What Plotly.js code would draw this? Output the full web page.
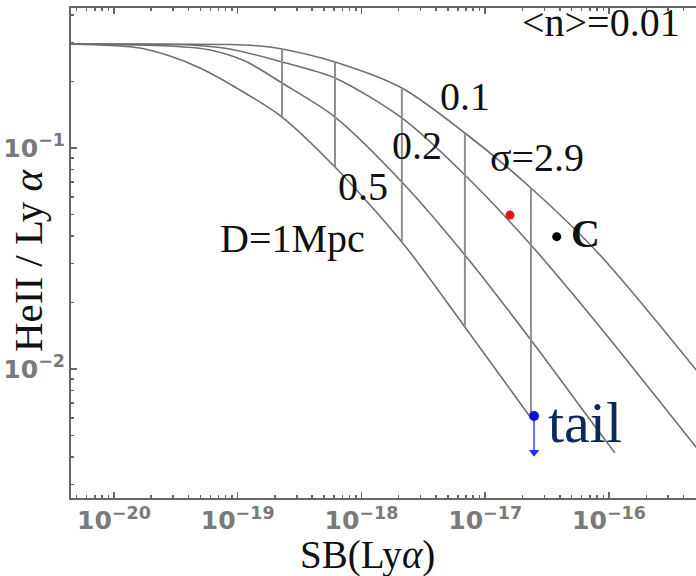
<!DOCTYPE html>
<html><head><meta charset="utf-8">
<script src="https://cdn.plot.ly/plotly-3.0.1.min.js"></script>
<style>html,body{margin:0;padding:0;background:#fff;overflow:hidden}</style>
</head><body><div id="chart" style="width:696px;height:576px"></div>
<script>
// model grid: SB(Lya) positions of the constant-density lines
const gridSB = [2.28e-19, 6.11e-19, 2.12e-18, 6.85e-18, 2.34e-17];
// HeII/Lya ratio of each distance curve at the grid positions
const curveA_grid = [0.1381, 0.0820, 0.03757, 0.01549, 0.00600];   // D=1Mpc
const curveB_grid = [0.1968, 0.1381, 0.07019, 0.03280, 0.01353];   // 0.5
const curveC_grid = [0.2449, 0.2074, 0.1367, 0.07545, 0.03640];    // 0.2
const curveD_grid = [0.2805, 0.2449, 0.1868, 0.1169, 0.06592];     // 0.1
// extra points along the curves (left plateau / right extension)
const curveA_leftSB = [4.5e-21, 1.62e-20, 2.84e-20, 4.96e-20, 9.50e-20];
const curveA_leftR  = [0.2955, 0.2835, 0.2607, 0.2301, 0.1888];
const curveB_leftSB = [4.5e-21, 2.84e-20, 5.97e-20, 1.145e-19];
const curveB_leftR  = [0.2955, 0.2893, 0.2776, 0.2475];
const curveC_leftSB = [4.5e-21, 4.11e-20, 8.66e-20];
const curveC_leftR  = [0.2955, 0.2924, 0.2805];
const curveD_leftSB = [4.5e-21, 8.66e-20, 1.514e-19];
const curveD_leftR  = [0.2955, 0.2940, 0.2893];
const curveB_rightSB = [8.45e-17, 1.117e-16];
const curveB_rightR  = [0.00513, 0.00417];
const curveC_rightSB = [8.45e-17, 5.1e-16];
const curveC_rightR  = [0.01549, 0.00440];
const curveD_rightSB = [8.45e-17, 5.1e-16];
const curveD_rightR  = [0.0328, 0.00985];
// observed points
const redSB = [1.585e-17], redR = [0.0497];
const blackSB = [3.78e-17], blackR = [0.0397];
const tailSB = [2.48e-17], tailR = [0.00612], tailLimit = [0.0042];

const curveColor = '#6f6f6f';
const vColor = '#8f8f8f';
function curve(lsb, lr, g, rsb, rr) {
  return {
    x: lsb.concat(gridSB, rsb), y: lr.concat(g, rr),
    mode: 'lines', line: {color: curveColor, width: 1.6, shape: 'spline', smoothing: 0.8},
    hoverinfo: 'skip', showlegend: false
  };
}
const traces = [
  curve(curveA_leftSB, curveA_leftR, curveA_grid, [], []),
  curve(curveB_leftSB, curveB_leftR, curveB_grid, curveB_rightSB, curveB_rightR),
  curve(curveC_leftSB, curveC_leftR, curveC_grid, curveC_rightSB, curveC_rightR),
  curve(curveD_leftSB, curveD_leftR, curveD_grid, curveD_rightSB, curveD_rightR)
];
gridSB.forEach((g, i) => {
  traces.push({x: [g, g], y: [curveA_grid[i], curveD_grid[i]], mode: 'lines',
    line: {color: vColor, width: 2}, hoverinfo: 'skip', showlegend: false});
});
traces.push({x: [tailSB[0], tailSB[0]], y: [tailR[0], tailLimit[0]], mode: 'lines',
  line: {color: '#6070ff', width: 2}, showlegend: false});
traces.push({x: tailSB, y: tailLimit, mode: 'markers',
  marker: {symbol: 'triangle-down', size: 9, color: '#1f2fff'}, showlegend: false});
traces.push({x: tailSB, y: tailR, mode: 'markers', marker: {size: 10, color: '#0a14d0'}, showlegend: false});
traces.push({x: redSB, y: redR, mode: 'markers', marker: {size: 9, color: '#e8101a'}, showlegend: false});
traces.push({x: blackSB, y: blackR, mode: 'markers', marker: {size: 9, color: '#000'}, showlegend: false});

const xr = [-20.347, -15.297], yr = [-2.584, -0.3665];
function minorVals(lo, hi) {
  const v = [];
  for (let e = Math.floor(lo); e <= Math.ceil(hi); e++)
    for (let m = 2; m <= 9; m++) v.push(m * Math.pow(10, e));
  return v;
}
const axisCommon = {type: 'log', showgrid: false, zeroline: false, showline: true,
  linecolor: '#666', linewidth: 2, ticks: 'inside', tickcolor: '#666', tickwidth: 1.5};
const serif = 'Liberation Serif, serif';
const tickFont = {family: 'DejaVu Sans', size: 20, color: '#7a7a7a', weight: 'bold'};
const layout = {
  width: 696, height: 576,
  margin: {l: 71, r: 0, t: 8, b: 78},
  paper_bgcolor: '#fff', plot_bgcolor: '#fff',
  xaxis: Object.assign({}, axisCommon, {range: xr, dtick: 1, ticklen: 6, mirror: 'ticks',
    exponentformat: 'power', tickfont: tickFont}),
  yaxis: Object.assign({}, axisCommon, {range: yr, dtick: 1, ticklen: 6,
    exponentformat: 'power', tickfont: tickFont}),
  xaxis2: Object.assign({}, axisCommon, {range: xr, overlaying: 'x', anchor: 'y', side: 'bottom',
    tickvals: minorVals(-21, -15), showticklabels: false, ticklen: 3, mirror: 'ticks', showline: false}),
  yaxis2: Object.assign({}, axisCommon, {range: yr, overlaying: 'y', anchor: 'x', side: 'left',
    tickvals: minorVals(-3, 0), showticklabels: false, ticklen: 3, showline: false}),
  annotations: [
    {text: '&lt;n&gt;=0.01', x: 0.848, y: 0.9694},
    {text: '0.1', x: 0.6304, y: 0.8184},
    {text: '0.2', x: 0.5536, y: 0.7184},
    {text: '0.5', x: 0.4672, y: 0.6347},
    {text: 'D=1Mpc', x: 0.3536, y: 0.5306},
    {text: 'σ=2.9', x: 0.7456, y: 0.6959},
    {text: '<b>C</b>', x: 0.8224, y: 0.5388},
    {text: 'tail', x: 0.8224, y: 0.1551, font: {family: serif, size: 58, color: '#0b2a5b'}},
    {text: 'SB(Ly<i>α</i>)', x: 0.4736, y: -0.1162, font: {family: serif, size: 39, color: '#111'}},
    {text: 'HeII&nbsp;/&nbsp;Ly&nbsp;<i>α</i>', x: -0.0688, y: 0.4857, textangle: -90, font: {family: serif, size: 41, color: '#111'}}
  ].map(a => Object.assign({xref: 'paper', yref: 'paper', showarrow: false,
    xanchor: 'center', yanchor: 'middle', font: {family: serif, size: 40, color: '#111'}}, a))
};
// dummy invisible trace to keep overlay axes alive
traces.push({x: [1e-18], y: [0.01], xaxis: 'x2', yaxis: 'y2', mode: 'markers',
  marker: {opacity: 0}, hoverinfo: 'skip', showlegend: false});
Plotly.newPlot('chart', traces, layout, {staticPlot: true});
</script></body></html>
